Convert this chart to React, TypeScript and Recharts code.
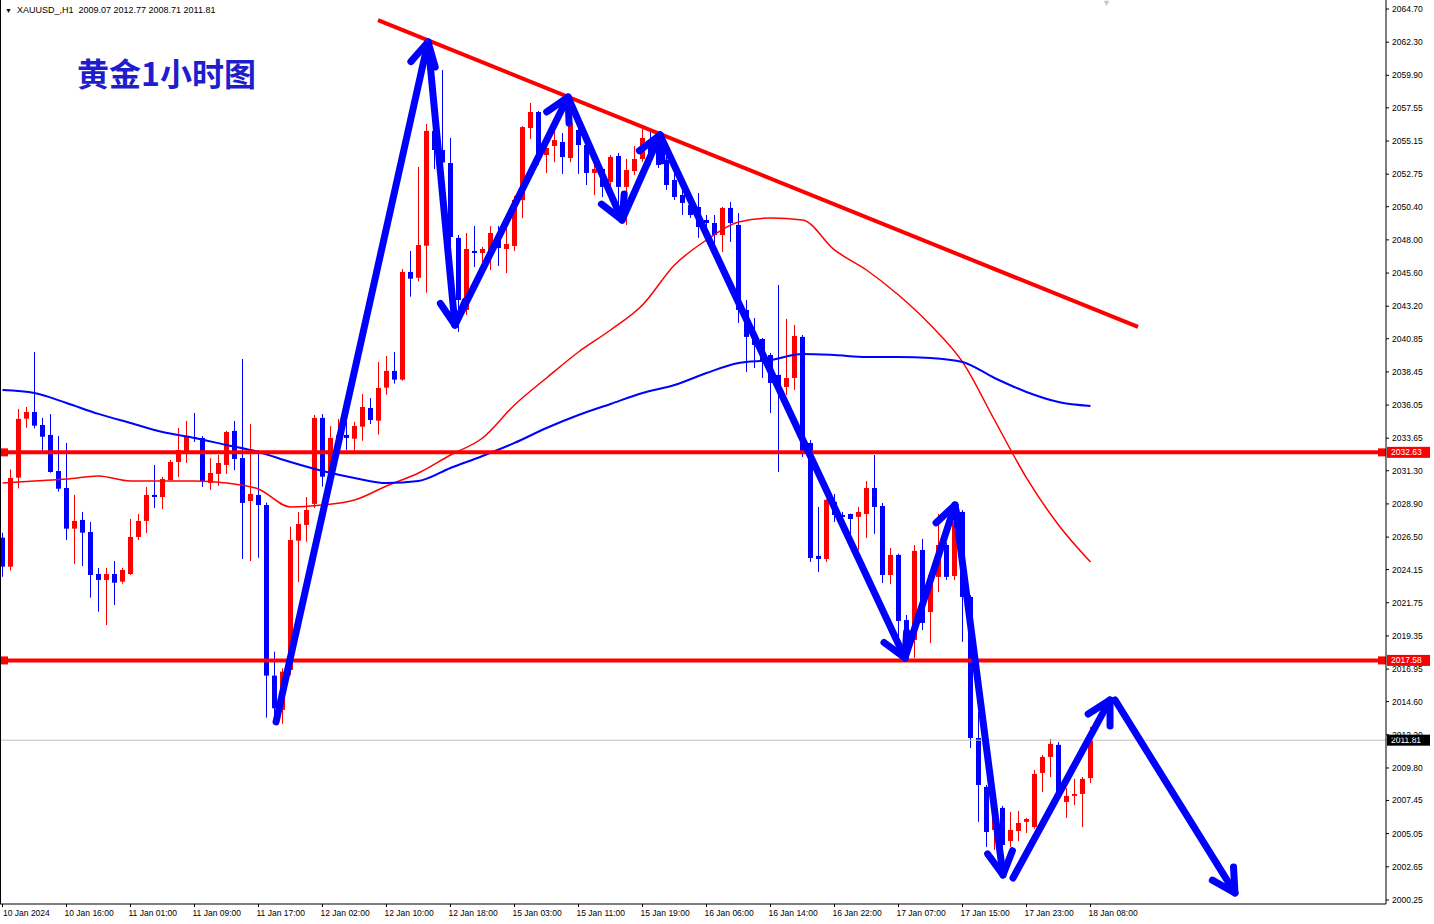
import React from 'react';
import { ComposedChart, Bar, Line, XAxis, YAxis, ReferenceLine } from 'recharts';

// XAUUSD H1, 10 Jan 08:00 -> 18 Jan 08:00
const opens = [
  2026.46, 2024.36, 2030.80, 2035.07, 2035.55, 2034.61, 2033.89, 2031.28, 2030.05, 2027.11,
  2027.74, 2026.87, 2023.83, 2023.40, 2023.83, 2023.28, 2023.83, 2026.51, 2027.67, 2029.55,
  2029.40, 2030.63, 2031.93, 2032.66, 2033.74, 2033.67, 2030.42, 2031.07, 2031.72, 2034.18,
  2032.22, 2029.11, 2029.55, 2028.82, 2016.48, 2014.00, 2016.89, 2026.24, 2027.38, 2028.90,
  2035.12, 2031.23, 2033.67, 2033.89, 2033.62, 2034.49, 2035.84, 2034.92, 2037.31, 2038.52,
  2037.89, 2045.68, 2045.26, 2047.58, 2055.88, 2054.50, 2053.56, 2048.14, 2042.93, 2047.20,
  2047.05, 2047.20, 2048.21, 2047.34, 2047.56, 2050.88, 2056.09, 2057.25, 2054.14, 2054.79,
  2055.08, 2053.92, 2055.95, 2054.86, 2052.84, 2053.13, 2052.19, 2054.07, 2051.83, 2052.98,
  2053.85, 2055.22, 2054.86, 2053.78, 2052.33, 2051.25, 2050.52, 2050.38, 2049.44, 2049.22,
  2048.35, 2050.31, 2049.08, 2042.93, 2041.12, 2040.83, 2039.67, 2038.23, 2037.36, 2038.01,
  2040.98, 2033.31, 2025.14, 2024.92, 2029.04, 2028.10, 2028.17, 2027.96, 2028.17, 2030.05,
  2028.75, 2023.76, 2025.21, 2020.50, 2019.06, 2025.57, 2021.08, 2023.62, 2025.93, 2023.69,
  2028.32, 2022.17, 2011.97, 2008.43, 2005.32, 2006.91, 2004.52, 2005.24, 2005.90, 2005.53,
  2009.44, 2010.60, 2011.47, 2007.34, 2007.78, 2007.92, 2009.07,
];
const highs = [
  2026.82, 2031.40, 2035.77, 2035.91, 2039.89, 2035.12, 2035.40, 2033.81, 2033.31, 2029.55,
  2028.32, 2027.59, 2024.27, 2024.27, 2024.77, 2024.27, 2027.81, 2028.17, 2030.12, 2031.72,
  2030.85, 2032.08, 2034.39, 2034.90, 2035.48, 2033.81, 2032.22, 2032.44, 2034.18, 2034.90,
  2039.38, 2034.68, 2032.80, 2029.00, 2018.21, 2017.00, 2027.25, 2028.32, 2029.40, 2035.33,
  2035.40, 2034.53, 2035.05, 2034.83, 2034.83, 2036.85, 2036.56, 2039.17, 2039.60, 2039.89,
  2045.89, 2047.20, 2053.27, 2056.38, 2056.31, 2060.29, 2055.37, 2048.35, 2048.50, 2049.00,
  2047.49, 2049.00, 2049.00, 2049.00, 2051.17, 2056.23, 2057.90, 2057.32, 2055.01, 2056.67,
  2055.73, 2057.76, 2056.53, 2054.96, 2053.42, 2053.20, 2054.14, 2054.29, 2053.85, 2054.79,
  2056.02, 2055.80, 2055.59, 2054.50, 2053.78, 2051.83, 2051.39, 2051.39, 2049.80, 2049.80,
  2050.38, 2050.74, 2049.94, 2043.65, 2042.35, 2040.90, 2039.82, 2044.74, 2042.28, 2041.84,
  2041.12, 2033.52, 2028.68, 2029.25, 2029.62, 2028.32, 2028.20, 2028.68, 2030.56, 2032.44,
  2028.97, 2025.71, 2025.30, 2020.87, 2025.93, 2026.37, 2023.98, 2028.17, 2026.10, 2028.17,
  2028.46, 2022.30, 2013.85, 2008.57, 2006.91, 2007.05, 2006.62, 2006.69, 2006.18, 2009.66,
  2010.74, 2011.90, 2011.68, 2008.35, 2009.01, 2009.15, 2012.77,
];
const lows = [
  2023.63, 2024.07, 2030.03, 2034.41, 2034.37, 2032.73, 2031.16, 2029.79, 2026.29, 2024.56,
  2024.41, 2022.12, 2021.11, 2020.14, 2021.59, 2023.13, 2023.76, 2026.29, 2026.80, 2028.61,
  2028.53, 2030.60, 2030.85, 2031.86, 2033.38, 2030.13, 2029.91, 2030.20, 2031.07, 2031.35,
  2024.92, 2024.77, 2025.00, 2013.44, 2013.03, 2013.00, 2016.50, 2023.25, 2026.16, 2028.60,
  2030.15, 2030.80, 2032.44, 2032.80, 2032.66, 2033.47, 2034.68, 2033.91, 2036.80, 2037.60,
  2037.82, 2043.89, 2045.00, 2044.18, 2053.13, 2052.50, 2043.65, 2041.34, 2042.57, 2046.04,
  2046.26, 2045.82, 2046.11, 2045.60, 2047.20, 2049.58, 2055.30, 2053.42, 2052.84, 2053.63,
  2052.77, 2053.63, 2052.77, 2051.97, 2051.25, 2051.10, 2051.83, 2050.38, 2049.08, 2052.69,
  2053.63, 2053.42, 2053.20, 2051.61, 2050.88, 2049.80, 2049.58, 2048.14, 2048.72, 2046.91,
  2047.12, 2047.85, 2041.99, 2038.44, 2038.73, 2038.01, 2035.48, 2031.21, 2036.78, 2037.14,
  2032.30, 2024.70, 2023.98, 2024.70, 2027.59, 2027.59, 2026.51, 2025.57, 2026.44, 2026.73,
  2023.18, 2023.11, 2018.70, 2017.61, 2017.76, 2019.78, 2018.84, 2022.53, 2023.40, 2023.40,
  2018.92, 2011.25, 2005.90, 2004.09, 2003.87, 2002.06, 2004.09, 2004.52, 2005.10, 2005.40,
  2008.06, 2009.15, 2007.49, 2006.19, 2007.12, 2005.53, 2008.71,
];
const closes = [
  2024.36, 2030.78, 2035.05, 2035.55, 2034.56, 2033.76, 2031.21, 2030.00, 2027.11, 2027.67,
  2026.82, 2023.76, 2023.40, 2023.83, 2023.20, 2024.12, 2026.51, 2027.67, 2029.55, 2029.40,
  2030.70, 2031.93, 2032.80, 2033.74, 2033.67, 2030.56, 2031.14, 2031.86, 2034.10, 2032.15,
  2028.97, 2029.62, 2028.82, 2016.48, 2014.12, 2016.77, 2026.29, 2027.45, 2028.46, 2035.12,
  2030.87, 2033.67, 2033.89, 2033.67, 2034.54, 2035.91, 2034.97, 2037.29, 2038.52, 2037.89,
  2045.68, 2045.19, 2047.63, 2055.88, 2054.50, 2053.60, 2048.21, 2043.65, 2047.34, 2047.05,
  2047.34, 2048.50, 2047.41, 2047.70, 2050.88, 2056.16, 2057.25, 2054.14, 2054.65, 2055.22,
  2053.99, 2056.45, 2054.86, 2052.84, 2053.13, 2051.83, 2054.00, 2051.83, 2053.05, 2053.85,
  2055.37, 2053.78, 2053.42, 2051.97, 2051.10, 2050.67, 2049.80, 2048.93, 2049.22, 2048.35,
  2050.31, 2049.22, 2042.93, 2040.98, 2040.40, 2039.31, 2037.65, 2037.14, 2038.01, 2041.05,
  2032.58, 2024.99, 2024.92, 2029.19, 2028.10, 2027.96, 2027.81, 2028.32, 2030.05, 2028.68,
  2023.76, 2025.21, 2020.43, 2018.34, 2025.50, 2020.29, 2023.76, 2025.93, 2023.62, 2027.59,
  2022.17, 2011.97, 2008.57, 2005.17, 2006.76, 2004.23, 2005.32, 2005.82, 2006.11, 2009.37,
  2010.60, 2011.54, 2007.85, 2007.78, 2007.92, 2009.01, 2011.81,
];

// moving averages, read every 4th bar
const maStep = 4;
const maRed = [
  2030.41, 2030.56, 2030.70, 2030.92, 2030.56, 2030.56, 2030.56, 2030.41, 2029.98, 2028.68,
  2028.82, 2029.18, 2030.20, 2031.14, 2032.44, 2033.67, 2036.06, 2038.01, 2039.89, 2041.48,
  2043.29, 2046.18, 2047.99, 2049.29, 2049.58, 2049.44, 2047.27, 2045.82, 2044.01, 2041.84,
  2039.17, 2034.97, 2030.78, 2027.38, 2024.70,
];
const maBlue = [
  2037.14, 2036.92, 2036.20, 2035.41, 2034.75, 2034.10, 2033.67, 2033.16, 2032.66, 2031.93,
  2031.28, 2030.78, 2030.41, 2030.56, 2031.50, 2032.37, 2033.31, 2034.39, 2035.33, 2036.13,
  2036.92, 2037.50, 2038.37, 2039.09, 2039.31, 2039.75, 2039.67, 2039.53, 2039.53, 2039.46,
  2039.17, 2038.01, 2037.00, 2036.27, 2035.98,
];

const labelStep = 8;
const timeLabels = [
  '10 Jan 2024', '10 Jan 16:00', '11 Jan 01:00', '11 Jan 09:00', '11 Jan 17:00', '12 Jan 02:00',
  '12 Jan 10:00', '12 Jan 18:00', '15 Jan 03:00', '15 Jan 11:00', '15 Jan 19:00', '16 Jan 06:00',
  '16 Jan 14:00', '16 Jan 22:00', '17 Jan 07:00', '17 Jan 15:00', '17 Jan 23:00', '18 Jan 08:00',
];

const priceTicks = [
  2064.70, 2062.30, 2059.90, 2057.55, 2055.15, 2052.75, 2050.40, 2048.00, 2045.60, 2043.20,
  2040.85, 2038.45, 2036.05, 2033.65, 2031.30, 2028.90, 2026.50, 2024.15, 2021.75, 2019.35,
  2016.95, 2014.60, 2012.20, 2009.80, 2007.45, 2005.05, 2002.65, 2000.25,
];

const levels = [2032.63, 2017.58];
const lastPrice = 2011.81;
const header = 'XAUUSD_,H1  2009.07 2012.77 2008.71 2011.81';

// [bar, price] endpoints
const trendLine = [[46.94, 2063.90], [141.94, 2041.70]];
const arrows = [
  [[34.19, 2013.13], [53.19, 2062.31]],
  [[53.19, 2062.31], [56.56, 2041.84]],
  [[56.56, 2041.84], [70.69, 2058.33]],
  [[70.69, 2058.33], [77.44, 2049.44]],
  [[77.44, 2049.44], [82.19, 2055.59]],
  [[82.19, 2055.59], [112.81, 2017.76]],
  [[112.81, 2017.76], [119.06, 2028.82]],
  [[119.06, 2028.82], [125.06, 2002.06]],
  [[126.31, 2001.84], [138.44, 2014.72]],
  [[139.06, 2014.72], [154.06, 2000.76]],
];

const data = opens.map((o, i) => ({
  i,
  open: o,
  high: highs[i],
  low: lows[i],
  close: closes[i],
  range: [lows[i], highs[i]],
  maRed: i % maStep === 0 ? maRed[i / maStep] : undefined,
  maBlue: i % maStep === 0 ? maBlue[i / maStep] : undefined,
}));

const xTicks = timeLabels.map((_, k) => k * labelStep);
const FONT = '"Liberation Sans", Arial, sans-serif';

const Candle = (props: any) => {
  const { x, y, width, height, payload } = props;
  const { open, close, high, low } = payload;
  const color = close >= open ? '#ff0000' : '#0000ff';
  const cx = Math.round(x + width / 2) + 0.5;
  const span = high - low || 1;
  const py = (v: number) => y + ((high - v) / span) * height;
  const top = py(Math.max(open, close));
  const bot = py(Math.min(open, close));
  return (
    <g>
      <line x1={cx} x2={cx} y1={y} y2={y + height} stroke={color} strokeWidth={1} />
      <rect x={cx - 2.5} y={top} width={5} height={Math.max(bot - top, 1)} fill={color} />
    </g>
  );
};

const levelShape = (price: number, color: string, width: number, box: string) => (p: any) => {
  const y = p.y1;
  const left = Math.min(p.x1, p.x2);
  const right = Math.max(p.x1, p.x2);
  return (
    <g>
      <line x1={left} x2={right} y1={y} y2={y} stroke={color} strokeWidth={width} />
      {width > 1 && <rect x={left} y={y - 4} width={8} height={8} fill={color} />}
      {width > 1 && <rect x={right - 8} y={y - 4} width={8} height={8} fill={color} />}
      <rect x={right + 1} y={y - 5.5} width={43} height={11} fill={box} />
      <text x={right + 5} y={y + 3} fill="#fff" fontSize={8.5} fontFamily={FONT}>
        {price.toFixed(2)}
      </text>
    </g>
  );
};

const arrowShape = (p: any) => {
  const { x1, y1, x2, y2 } = p;
  const ang = Math.atan2(y2 - y1, x2 - x1);
  const len = 26;
  const spread = 0.5;
  const bx1 = x2 - len * Math.cos(ang - spread);
  const by1 = y2 - len * Math.sin(ang - spread);
  const bx2 = x2 - len * Math.cos(ang + spread);
  const by2 = y2 - len * Math.sin(ang + spread);
  return (
    <g stroke="#0000ff" strokeWidth={7} strokeLinecap="round" strokeLinejoin="round" fill="none">
      <line x1={x1} y1={y1} x2={x2} y2={y2} />
      <polyline points={`${bx1},${by1} ${x2},${y2} ${bx2},${by2}`} />
    </g>
  );
};

const trendShape = (p: any) => (
  <line x1={p.x1} y1={p.y1} x2={p.x2} y2={p.y2} stroke="#ff0000" strokeWidth={4} />
);

const TimeTick = ({ x, y, payload }: any) => {
  const label = timeLabels[Math.round(payload.value / labelStep)];
  return (
    <text x={Math.max(x - 2, 3)} y={y + 7} fontSize={8.5} fontFamily={FONT} fill="#000">
      {label}
    </text>
  );
};

const PriceTick = ({ x, y, payload }: any) => (
  <text x={x} y={y + 3} fontSize={8.5} fontFamily={FONT} fill="#000">
    {Number(payload.value).toFixed(2)}
  </text>
);

const App = () => {
  return (
    <div style={{ position: 'relative', width: 1434, height: 924, background: '#fff' }}>
      <style>{'body{margin:0;background:#fff}'}</style>
      <ComposedChart
        width={1434}
        height={924}
        data={data}
        margin={{ top: 0, right: 0, bottom: 0, left: 0 }}
      >
        <XAxis
          dataKey="i"
          type="number"
          domain={[-0.3125, 172.9375]}
          allowDataOverflow
          ticks={xTicks}
          interval={0}
          height={20}
          tick={<TimeTick />}
          tickSize={3}
          tickMargin={2}
          axisLine={{ stroke: '#000' }}
          tickLine={{ stroke: '#000' }}
        />
        <YAxis
          orientation="right"
          type="number"
          domain={[1999.96, 2065.351]}
          allowDataOverflow
          ticks={priceTicks}
          interval={0}
          width={48}
          tick={<PriceTick />}
          tickSize={3}
          tickMargin={3}
          axisLine={{ stroke: '#000' }}
          tickLine={{ stroke: '#000' }}
        />
        <Bar dataKey="range" barSize={5} shape={<Candle />} isAnimationActive={false} />
        <Line
          dataKey="maRed"
          type="monotone"
          stroke="#ff0000"
          strokeWidth={1.5}
          dot={false}
          activeDot={false}
          connectNulls
          isAnimationActive={false}
        />
        <Line
          dataKey="maBlue"
          type="monotone"
          stroke="#0000ff"
          strokeWidth={2}
          dot={false}
          activeDot={false}
          connectNulls
          isAnimationActive={false}
        />
        <ReferenceLine y={lastPrice} shape={levelShape(lastPrice, '#c0c0c0', 1, '#000')} />
        {levels.map((lv) => (
          <ReferenceLine key={lv} y={lv} shape={levelShape(lv, '#ff0000', 4, '#ff0000')} />
        ))}
        <ReferenceLine
          segment={[
            { x: trendLine[0][0], y: trendLine[0][1] },
            { x: trendLine[1][0], y: trendLine[1][1] },
          ]}
          shape={trendShape}
        />
        {arrows.map((a, k) => (
          <ReferenceLine
            key={k}
            segment={[
              { x: a[0][0], y: a[0][1] },
              { x: a[1][0], y: a[1][1] },
            ]}
            shape={arrowShape}
          />
        ))}
      </ComposedChart>
      <div
        style={{
          position: 'absolute', left: 0, top: 0, width: 1386, height: 904,
          borderLeft: '1px solid #000', pointerEvents: 'none',
        }}
      />
      <div
        style={{
          position: 'absolute', left: 5, top: 4, fontFamily: FONT, fontSize: 9,
          color: '#000', whiteSpace: 'pre', lineHeight: '12px',
        }}
      >
        <span style={{ fontSize: 7, marginRight: 5 }}>▼</span>
        {header}
      </div>
      <div
        style={{
          position: 'absolute', left: 1102, top: -2, fontSize: 9, color: '#c8c8c8',
          fontFamily: FONT,
        }}
      >
        ▼
      </div>
      <div
        style={{
          position: 'absolute', left: 77, top: 56, fontFamily: '"Noto Sans CJK SC", sans-serif',
          fontWeight: 700, fontSize: 32, lineHeight: '32px', color: '#1e1ecc', whiteSpace: 'nowrap',
        }}
      >
        黄金1小时图
      </div>
    </div>
  );
};

export default App;
